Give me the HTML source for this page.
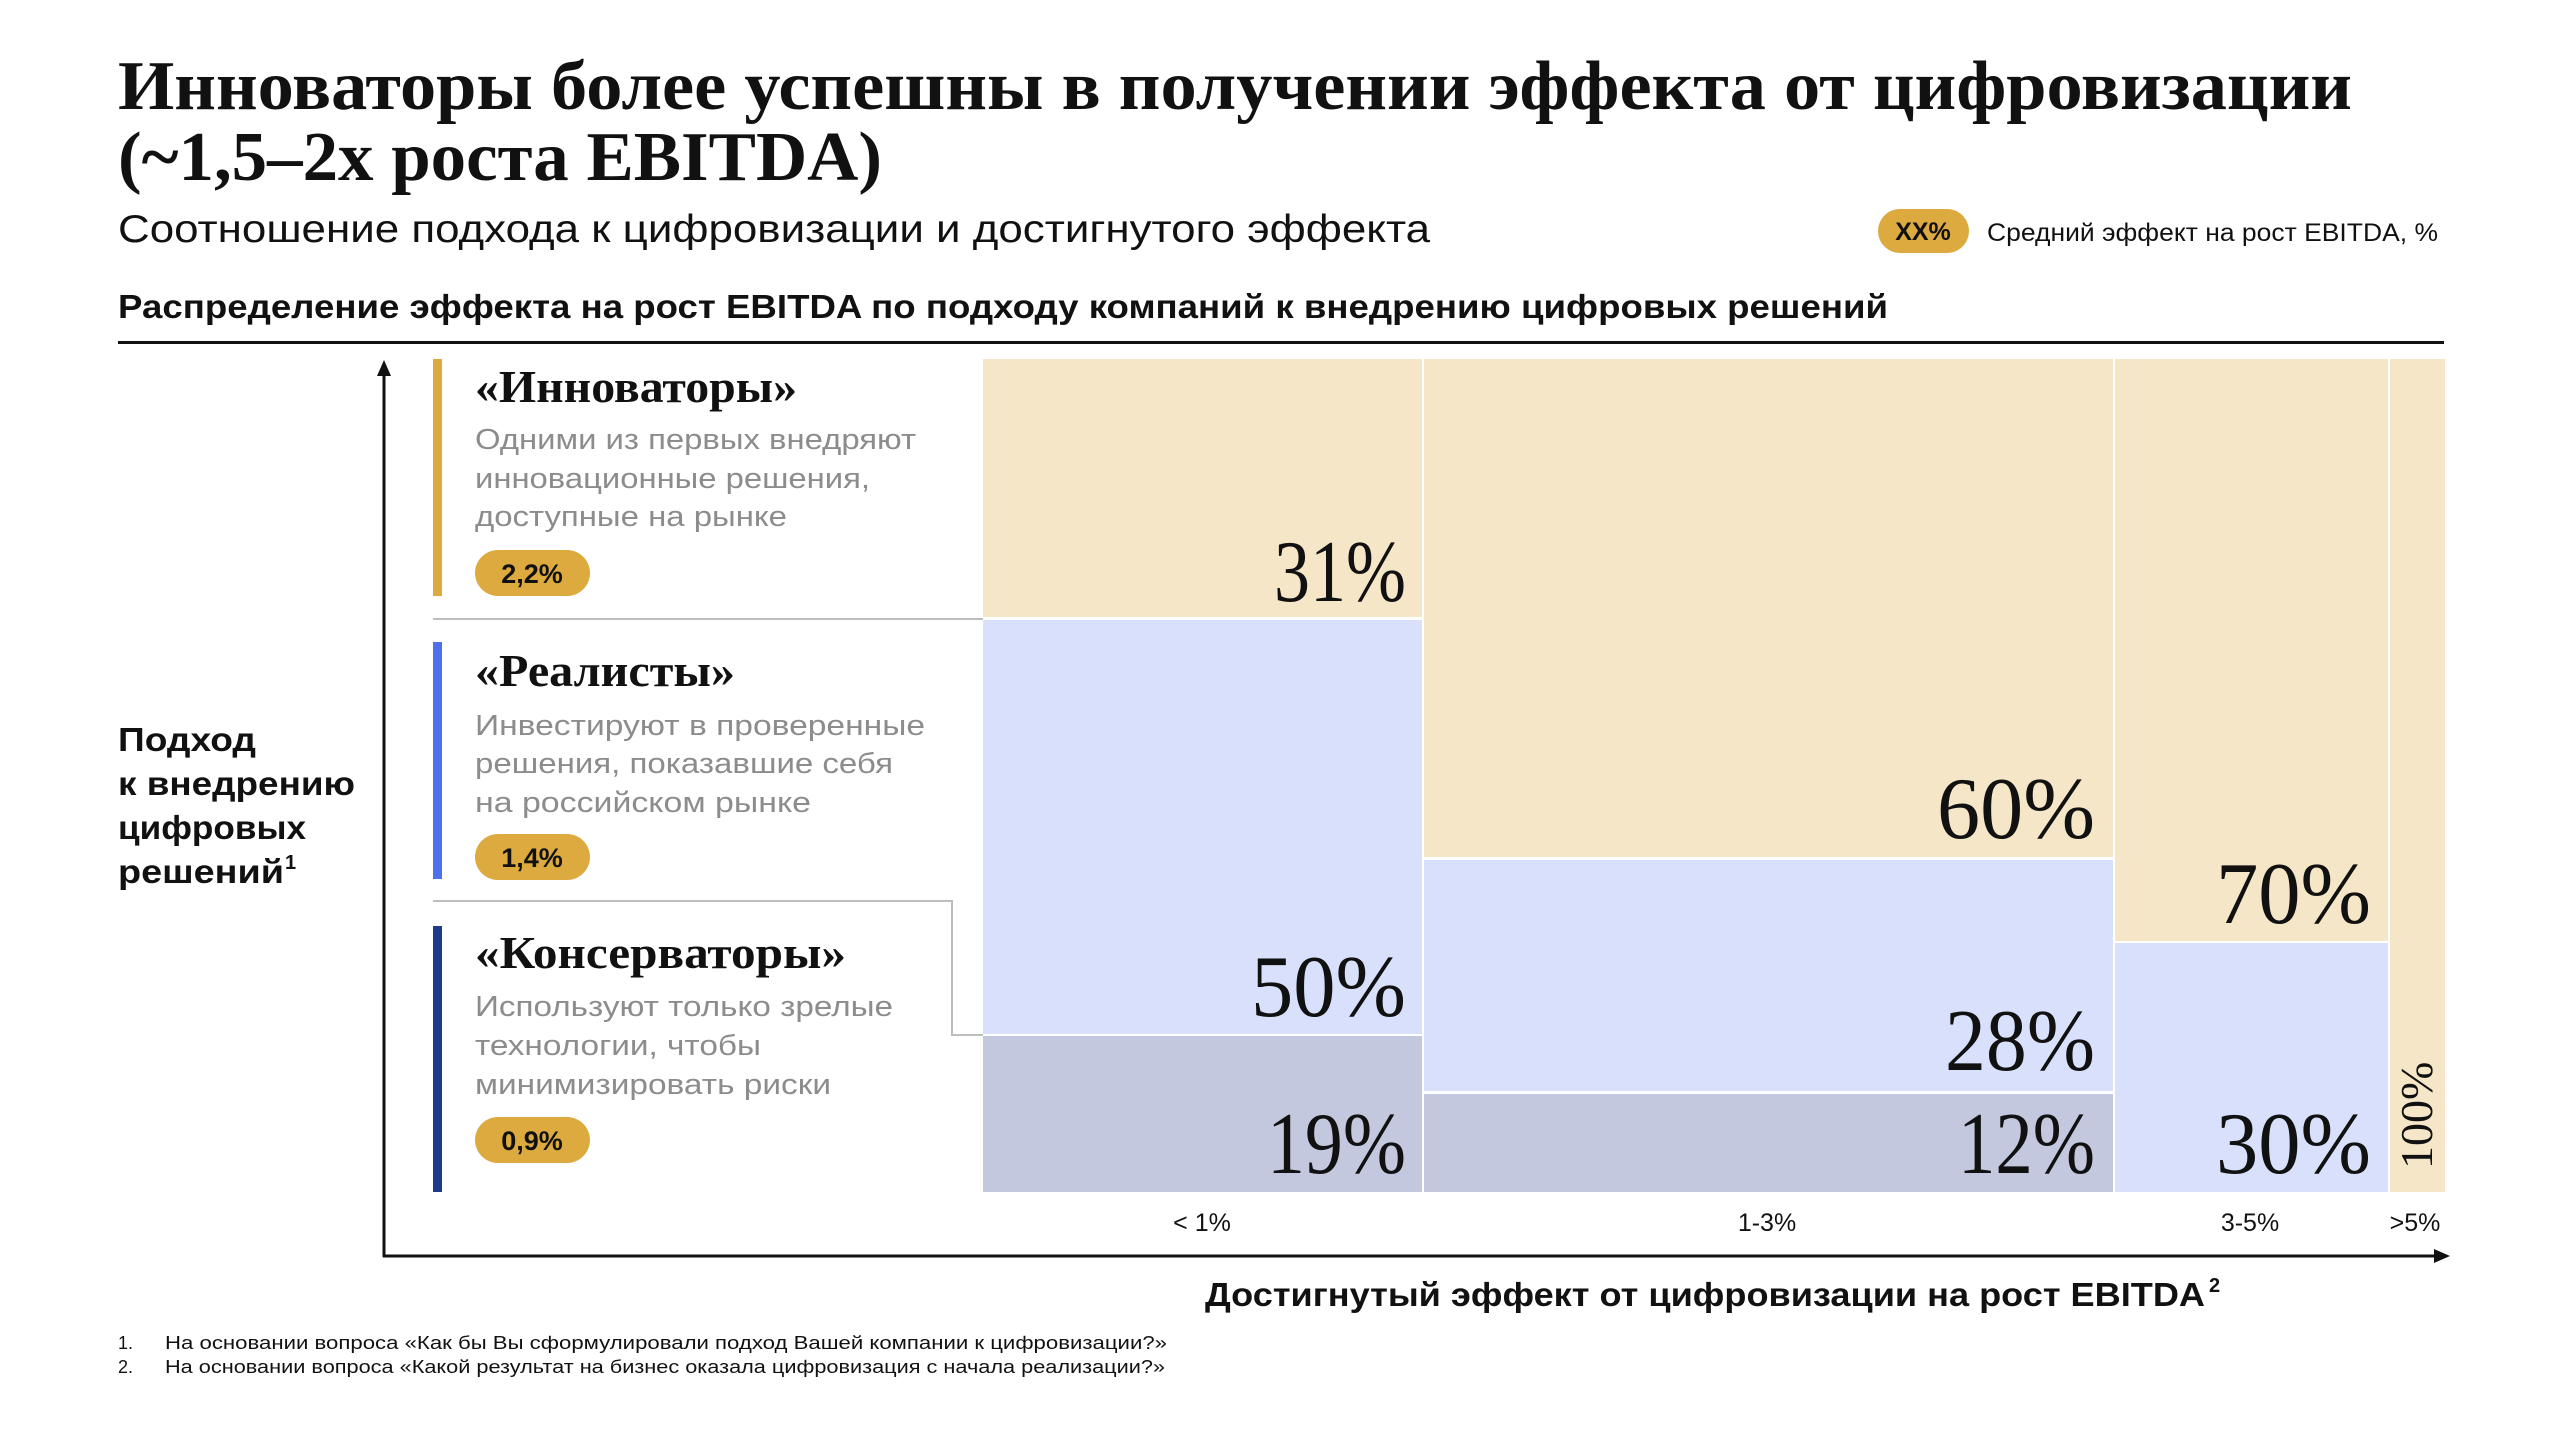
<!DOCTYPE html>
<html><head><meta charset="utf-8"><style>html,body{margin:0;padding:0;background:#fff}svg{display:block}</style></head>
<body>
<svg width="2560" height="1440" viewBox="0 0 2560 1440" xmlns="http://www.w3.org/2000/svg">
<rect width="2560" height="1440" fill="#fff"/>
<g font-family="Liberation Serif, serif" font-weight="bold" fill="#111">
<text x="118" y="109" font-size="70" textLength="2234" lengthAdjust="spacingAndGlyphs">Инноваторы более успешны в получении эффекта от цифровизации</text>
<text x="118" y="180" font-size="70" textLength="764" lengthAdjust="spacingAndGlyphs">(~1,5–2x роста EBITDA)</text>
</g>
<g font-family="Liberation Sans, sans-serif" fill="#111">
<text x="118" y="242" font-size="39" textLength="1312" lengthAdjust="spacingAndGlyphs">Соотношение подхода к цифровизации и достигнутого эффекта</text>
<rect x="1878" y="209" width="91" height="44" rx="22" fill="#dcaa3e"/>
<text x="1923" y="240" font-size="25" font-weight="bold" text-anchor="middle">XX%</text>
<text x="1987" y="241" font-size="25" textLength="451" lengthAdjust="spacingAndGlyphs">Средний эффект на рост EBITDA, %</text>
<text x="118" y="318" font-size="33" font-weight="bold" textLength="1770" lengthAdjust="spacingAndGlyphs">Распределение эффекта на рост EBITDA по подходу компаний к внедрению цифровых решений</text>
</g>
<rect x="118" y="341" width="2326" height="3" fill="#111"/>
<line x1="384" y1="370" x2="384" y2="1257" stroke="#111" stroke-width="3"/>
<polygon points="384,360 377,376 391,376" fill="#111"/>
<line x1="383" y1="1256" x2="2436" y2="1256" stroke="#111" stroke-width="3"/>
<polygon points="2450,1256 2434,1249 2434,1263" fill="#111"/>
<rect x="983" y="359" width="439" height="258" fill="#f5e6c8"/>
<rect x="983" y="620" width="439" height="414" fill="#d8e0fc"/>
<rect x="983" y="1036" width="439" height="156" fill="#c3c8de"/>
<rect x="1424" y="359" width="689" height="498" fill="#f5e6c8"/>
<rect x="1424" y="860" width="689" height="231" fill="#d8e0fc"/>
<rect x="1424" y="1094" width="689" height="98" fill="#c3c8de"/>
<rect x="2115" y="359" width="273" height="582" fill="#f5e6c8"/>
<rect x="2115" y="943" width="273" height="249" fill="#d8e0fc"/>
<rect x="2390" y="359" width="55" height="833" fill="#f5e6c8"/>
<g font-family="Liberation Serif, serif" font-size="88" fill="#111">
<text x="1274" y="601" textLength="132" lengthAdjust="spacingAndGlyphs">31%</text>
<text x="1251" y="1016" textLength="155" lengthAdjust="spacingAndGlyphs">50%</text>
<text x="1267" y="1173" textLength="139" lengthAdjust="spacingAndGlyphs">19%</text>
<text x="1937" y="838" textLength="158" lengthAdjust="spacingAndGlyphs">60%</text>
<text x="1945" y="1070" textLength="150" lengthAdjust="spacingAndGlyphs">28%</text>
<text x="1958" y="1173" textLength="137" lengthAdjust="spacingAndGlyphs">12%</text>
<text x="2216" y="923" textLength="155" lengthAdjust="spacingAndGlyphs">70%</text>
<text x="2216" y="1173" textLength="155" lengthAdjust="spacingAndGlyphs">30%</text>
</g>
<text transform="translate(2432,1169) rotate(-90)" font-family="Liberation Serif, serif" font-size="46" fill="#111">100%</text>
<rect x="433" y="359" width="9" height="237" fill="#dcaa3e"/>
<rect x="433" y="642" width="9" height="237" fill="#4d6ff0"/>
<rect x="433" y="926" width="9" height="266" fill="#1e3a8a"/>
<line x1="433" y1="619" x2="983" y2="619" stroke="#bdbdbd" stroke-width="2"/>
<polyline points="433,901 952,901 952,1035 983,1035" fill="none" stroke="#bdbdbd" stroke-width="2"/>
<g font-family="Liberation Serif, serif" font-weight="bold" font-size="46" fill="#111">
<text x="475" y="402" textLength="322" lengthAdjust="spacingAndGlyphs">«Инноваторы»</text>
<text x="475" y="686" textLength="260" lengthAdjust="spacingAndGlyphs">«Реалисты»</text>
<text x="475" y="968" textLength="371" lengthAdjust="spacingAndGlyphs">«Консерваторы»</text>
</g>
<g font-family="Liberation Sans, sans-serif" font-size="29" fill="#8c8c8c">
<text x="475" y="449" textLength="441" lengthAdjust="spacingAndGlyphs">Одними из первых внедряют</text>
<text x="475" y="488" textLength="395" lengthAdjust="spacingAndGlyphs">инновационные решения,</text>
<text x="475" y="526" textLength="312" lengthAdjust="spacingAndGlyphs">доступные на рынке</text>
<text x="475" y="735" textLength="450" lengthAdjust="spacingAndGlyphs">Инвестируют в проверенные</text>
<text x="475" y="773" textLength="418" lengthAdjust="spacingAndGlyphs">решения, показавшие себя</text>
<text x="475" y="812" textLength="336" lengthAdjust="spacingAndGlyphs">на российском рынке</text>
<text x="475" y="1016" textLength="418" lengthAdjust="spacingAndGlyphs">Используют только зрелые</text>
<text x="475" y="1055" textLength="286" lengthAdjust="spacingAndGlyphs">технологии, чтобы</text>
<text x="475" y="1094" textLength="356" lengthAdjust="spacingAndGlyphs">минимизировать риски</text>
</g>
<g font-family="Liberation Sans, sans-serif" font-size="27" font-weight="bold" fill="#111" text-anchor="middle">
<rect x="475" y="550" width="115" height="46" rx="23" fill="#dcaa3e"/>
<text x="532" y="583">2,2%</text>
<rect x="475" y="834" width="115" height="46" rx="23" fill="#dcaa3e"/>
<text x="532" y="867">1,4%</text>
<rect x="475" y="1117" width="115" height="46" rx="23" fill="#dcaa3e"/>
<text x="532" y="1150">0,9%</text>
</g>
<g font-family="Liberation Sans, sans-serif" font-size="33" font-weight="bold" fill="#111">
<text x="118" y="751" textLength="138" lengthAdjust="spacingAndGlyphs">Подход</text>
<text x="118" y="795" textLength="237" lengthAdjust="spacingAndGlyphs">к внедрению</text>
<text x="118" y="839" textLength="188" lengthAdjust="spacingAndGlyphs">цифровых</text>
<text x="118" y="883" textLength="166" lengthAdjust="spacingAndGlyphs">решений</text>
<text x="285" y="869" font-size="20">1</text>
<text x="1205" y="1306" textLength="1000" lengthAdjust="spacingAndGlyphs">Достигнутый эффект от цифровизации на рост EBITDA</text>
<text x="2209" y="1292" font-size="20">2</text>
</g>
<g font-family="Liberation Sans, sans-serif" font-size="25" fill="#111" text-anchor="middle">
<text x="1202" y="1231">&lt; 1%</text>
<text x="1767" y="1231">1-3%</text>
<text x="2250" y="1231">3-5%</text>
<text x="2415" y="1231">&gt;5%</text>
</g>
<g font-family="Liberation Sans, sans-serif" font-size="18" fill="#111">
<text x="118" y="1349">1.</text>
<text x="165" y="1349" textLength="1002" lengthAdjust="spacingAndGlyphs">На основании вопроса «Как бы Вы сформулировали подход Вашей компании к цифровизации?»</text>
<text x="118" y="1373">2.</text>
<text x="165" y="1373" textLength="1000" lengthAdjust="spacingAndGlyphs">На основании вопроса «Какой результат на бизнес оказала цифровизация с начала реализации?»</text>
</g>
</svg>
</body></html>
